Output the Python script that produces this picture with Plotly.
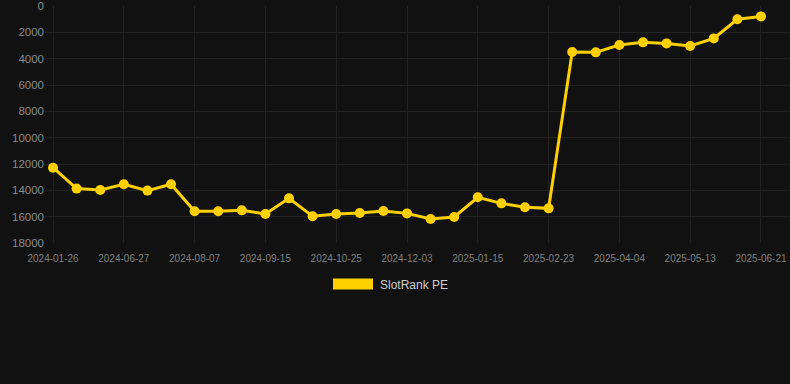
import plotly.graph_objects as go

dates = [
    "2024-01-26", "2024-06-01", "2024-06-14", "2024-06-27", "2024-07-11", "2024-07-24",
    "2024-08-07", "2024-08-20", "2024-09-02", "2024-09-15", "2024-09-28", "2024-10-12",
    "2024-10-25", "2024-11-07", "2024-11-20", "2024-12-03", "2024-12-17", "2024-12-31",
    "2025-01-15", "2025-01-28", "2025-02-10", "2025-02-23", "2025-03-08", "2025-03-21",
    "2025-04-04", "2025-04-17", "2025-04-30", "2025-05-13", "2025-05-26", "2025-06-08",
    "2025-06-21",
]
rank = [
    12280, 13870, 13970, 13540, 14020, 13540,
    15590, 15590, 15520, 15800, 14610, 15970,
    15800, 15720, 15570, 15750, 16180, 16020,
    14530, 14990, 15290, 15370, 3490, 3520,
    2960, 2760, 2840, 3040, 2460, 1010,
    790,
]
tick_labels = dates[::3]
y_ticks = [0, 2000, 4000, 6000, 8000, 10000, 12000, 14000, 16000, 18000]
series_name = "SlotRank PE"

gold = "#FFD000"
bg = "#111111"
grid = "#222222"

W, H = 790, 384
L, R, T, B = 45, 0, 6, 141
pw, ph = W - L - R, H - T - B


def px(x):
    return (x - L) / pw


def py(y):
    return (H - B - y) / ph


fig = go.Figure()
fig.add_trace(go.Scatter(
    x=dates, y=rank, mode="lines+markers", name=series_name,
    line=dict(color=gold, width=3),
    marker=dict(color=gold, size=10),
    showlegend=False,
))

fig.update_layout(
    width=W, height=H,
    paper_bgcolor=bg, plot_bgcolor=bg,
    margin=dict(l=L, r=R, t=T, b=B, autoexpand=False),
    font=dict(family="Liberation Sans, Arial, sans-serif", color="#888888", size=11),
    showlegend=False,
    shapes=[dict(type="rect", xref="paper", yref="paper",
                 x0=px(333), x1=px(373), y0=py(278.5), y1=py(289.5),
                 fillcolor=gold, line=dict(width=0))],
    annotations=[dict(text=series_name, xref="paper", yref="paper",
                      x=px(378), y=py(284.5),
                      xanchor="left", yanchor="middle", showarrow=False,
                      font=dict(size=12, color="#cccccc"))],
)
fig.update_xaxes(
    type="category", tickmode="array", tickvals=tick_labels, ticktext=tick_labels,
    range=[-0.34, 31.23], showgrid=True, gridcolor=grid, gridwidth=1,
    zeroline=False, showline=False, ticks="", tickfont=dict(size=10, color="#808080"),
    tickangle=0, automargin=False, ticklabelstandoff=8,
)
fig.update_yaxes(
    range=[18000, 0], tickmode="array", tickvals=y_ticks,
    ticktext=[str(v) for v in y_ticks], showgrid=True, gridcolor=grid, gridwidth=1,
    zeroline=False, showline=False, ticks="", tickfont=dict(size=11.5, color="#8a8a8a"),
    automargin=False,
)

fig.write_html(
    "out.html",
    config={"displayModeBar": False},
    post_script="document.body.style.margin='0';document.body.style.background='#111111';",
)
